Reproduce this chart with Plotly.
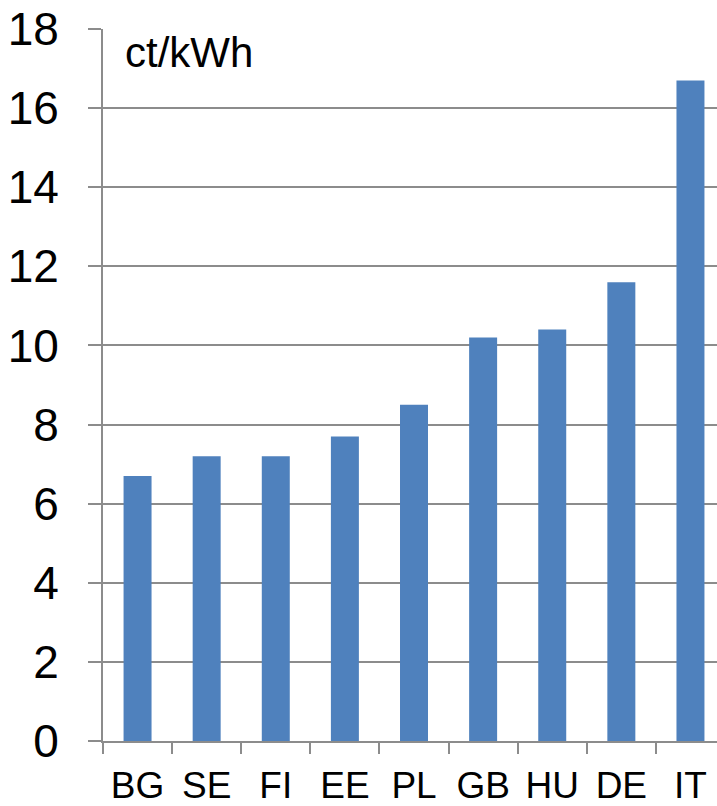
import plotly.graph_objects as go

# Electricity price per country, ct/kWh
countries = ["BG", "SE", "FI", "EE", "PL", "GB", "HU", "DE", "IT"]
prices = [6.7, 7.2, 7.2, 7.7, 8.5, 10.2, 10.4, 11.6, 16.7]
y_ticks = [0, 2, 4, 6, 8, 10, 12, 14, 16, 18]

W, H = 717, 806
ML, MR, MT, MB = 103, 0, 29, 63
grey = "#8c8c8c"
font = "Liberation Sans, Arial, sans-serif"

fig = go.Figure(
    go.Bar(
        x=countries,
        y=prices,
        marker=dict(color="#4F81BD", line=dict(width=0)),
        width=0.405,
    )
)

fig.update_layout(
    width=W,
    height=H,
    margin=dict(l=ML, r=MR, t=MT, b=MB),
    paper_bgcolor="white",
    plot_bgcolor="white",
    showlegend=False,
    font=dict(family=font, color="black"),
    xaxis=dict(
        type="category",
        range=[-0.5, 8.384],
        showline=True,
        linecolor=grey,
        linewidth=2,
        ticks="outside",
        tickson="boundaries",
        ticklen=11,
        tickwidth=2,
        tickcolor=grey,
        showgrid=False,
        tickfont=dict(size=37, family=font, color="black"),
        ticklabelstandoff=11,
    ),
    yaxis=dict(
        range=[0, 18],
        tickvals=y_ticks,
        showline=True,
        linecolor=grey,
        linewidth=2,
        ticks="outside",
        ticklen=13,
        tickwidth=2,
        tickcolor=grey,
        showgrid=True,
        gridcolor=grey,
        gridwidth=2,
        zeroline=False,
        tickfont=dict(size=46, family=font, color="black"),
        ticklabelstandoff=20,
    ),
    annotations=[
        dict(
            text="ct/kWh",
            xref="paper",
            yref="paper",
            x=0.032,
            y=0.967,
            xanchor="left",
            yanchor="middle",
            showarrow=False,
            font=dict(size=42, family=font, color="black"),
        )
    ],
)

fig.write_html("out.html")
